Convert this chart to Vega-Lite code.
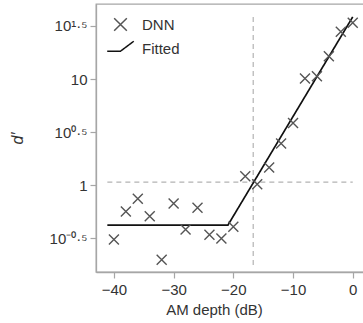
{
  "$schema": "https://vega.github.io/schema/vega-lite/v6.json",
  "width": 270,
  "height": 268,
  "autosize": {"type": "none"},
  "padding": {"left": 96, "top": 4, "right": 0, "bottom": 51},
  "background": "white",
  "config": {
    "view": {"stroke": "#a6a6a6", "strokeWidth": 1.3},
    "font": "Liberation Sans",
    "axis": {
      "grid": false,
      "domainColor": "#a6a6a6",
      "domainWidth": 1.3,
      "tickColor": "#a6a6a6",
      "tickWidth": 1.2,
      "tickSize": 6,
      "labelFont": "Liberation Sans",
      "labelFontSize": 15,
      "labelColor": "#333333",
      "titleFont": "Liberation Sans",
      "titleFontSize": 15,
      "titleFontWeight": "normal",
      "titleColor": "#333333"
    },
    "legend": {
      "labelFont": "Liberation Sans",
      "labelFontSize": 15,
      "labelColor": "#333333",
      "labelOffset": 14,
      "padding": 0,
      "symbolSize": 160,
      "symbolStrokeWidth": 1.5,
      "symbolFillColor": "transparent"
    }
  },
  "datasets": {
    "points": [
      {"x": -40, "d": 0.309}, {"x": -38, "d": 0.569}, {"x": -36, "d": 0.750},
      {"x": -34, "d": 0.513}, {"x": -32, "d": 0.200}, {"x": -30, "d": 0.676},
      {"x": -28, "d": 0.385}, {"x": -26, "d": 0.617}, {"x": -24, "d": 0.343},
      {"x": -22, "d": 0.316}, {"x": -20, "d": 0.407}, {"x": -18, "d": 1.216},
      {"x": -16, "d": 1.023}, {"x": -14, "d": 1.469}, {"x": -12, "d": 2.472},
      {"x": -10, "d": 3.864}, {"x": -8, "d": 10.12}, {"x": -6, "d": 10.62},
      {"x": -4, "d": 16.37}, {"x": -2, "d": 27.93}, {"x": 0, "d": 33.96}
    ],
    "fit": [
      {"x": -41.1, "d": 0.423}, {"x": -20.9, "d": 0.423}, {"x": 0, "d": 38.5}
    ],
    "vrule": [{"x": -16.67, "y1": 0.178, "y2": 40.2}],
    "hrule": [{"x1": -41.1, "x2": 0, "y": 1.074}]
  },
  "layer": [
    {
      "data": {"name": "vrule"},
      "mark": {"type": "rule", "color": "#b3b3b3", "strokeDash": [5, 4], "strokeWidth": 1.2},
      "encoding": {
        "x": {"field": "x", "type": "quantitative"},
        "y": {"field": "y1", "type": "quantitative"},
        "y2": {"field": "y2"}
      }
    },
    {
      "data": {"name": "hrule"},
      "mark": {"type": "rule", "color": "#b3b3b3", "strokeDash": [5, 4], "strokeWidth": 1.2},
      "encoding": {
        "x": {"field": "x1", "type": "quantitative"},
        "x2": {"field": "x2"},
        "y": {"field": "y", "type": "quantitative"}
      }
    },
    {
      "data": {"name": "fit"},
      "mark": {"type": "line", "strokeWidth": 1.7, "color": "#111111"},
      "encoding": {
        "x": {"field": "x", "type": "quantitative"},
        "y": {"field": "d", "type": "quantitative"},
        "strokeDash": {
          "datum": "Fitted",
          "scale": {"domain": ["Fitted"], "range": [[1, 0]]},
          "legend": {
            "title": null,
            "orient": "none",
            "legendX": 17,
            "legendY": 37,
            "symbolType": "M-2.1,0.42L0,0.42L2.1,-1.15",
            "symbolStrokeColor": "#111111",
            "symbolDash": [1, 0]
          }
        }
      }
    },
    {
      "data": {"name": "points"},
      "mark": {"type": "point", "shape": "M-1,-1L1,1M-1,1L1,-1", "size": 100, "strokeWidth": 1.4, "filled": false, "opacity": 1},
      "encoding": {
        "x": {
          "field": "x", "type": "quantitative",
          "scale": {"domain": [-43, 2.22], "nice": false, "zero": false},
          "axis": {
            "values": [-40, -30, -20, -10, 0],
            "title": "AM depth (dB)",
            "labelPadding": 4,
            "titleX": 118,
            "titleY": 42,
            "titleBaseline": "alphabetic",
            "titleAnchor": "middle",
            "titleAlign": "center"
          }
        },
        "y": {
          "field": "d", "type": "quantitative",
          "scale": {"type": "log", "domain": [0.153, 50.9], "nice": false, "zero": false},
          "axis": {
            "values": [0.316228, 1, 3.162278, 10, 31.6228],
            "labelExpr": "['10⁻⁰·⁵', '1', '10⁰·⁵', '10', '10¹·⁵'][round(log(datum.value) / LN10 * 2) + 1]",
            "labelPadding": 3,
            "title": "d′",
            "titleFontStyle": "italic",
            "titleFontSize": 16,
            "titleAngle": -90,
            "titleX": -79,
            "titleY": 134,
            "titleAlign": "center",
            "titleBaseline": "middle"
          }
        },
        "stroke": {
          "datum": "DNN",
          "scale": {"domain": ["DNN"], "range": ["#555555"]},
          "legend": {
            "title": null,
            "orient": "none",
            "legendX": 17,
            "legendY": 13,
            "symbolType": "M-1,-1L1,1M-1,1L1,-1"
          }
        }
      }
    }
  ]
}
